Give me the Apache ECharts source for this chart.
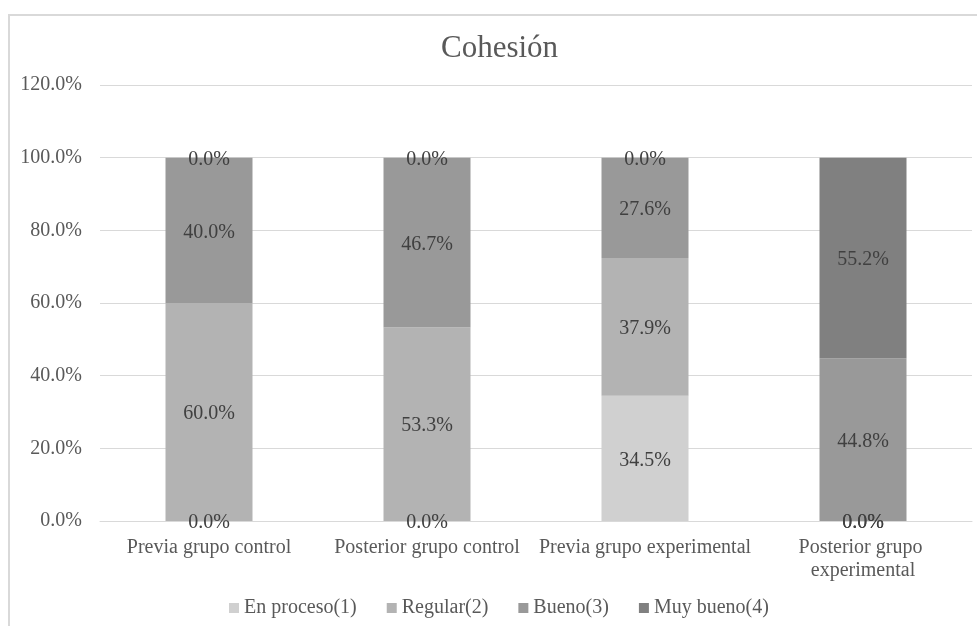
<!DOCTYPE html>
<html>
<head>
<meta charset="utf-8">
<script src="https://cdn.jsdelivr.net/npm/echarts@6/dist/echarts.min.js"></script>
<style>html,body{margin:0;padding:0;background:#fff}#c{width:977px;height:626px}</style>
</head>
<body>
<div id="c"></div>
<script>
var categories = ['Previa grupo control', 'Posterior grupo control', 'Previa grupo experimental', 'Posterior grupo experimental'];
var seriesNames = ['En proceso(1)', 'Regular(2)', 'Bueno(3)', 'Muy bueno(4)'];
var enProceso = [0.0, 0.0, 34.5, 0.0];
var regular = [60.0, 53.3, 37.9, 0.0];
var bueno = [40.0, 46.7, 27.6, 44.8];
var muyBueno = [0.0, 0.0, 0.0, 55.2];
var yTicks = [0, 20, 40, 60, 80, 100, 120];

var FONT = 'Liberation Serif';
var colors = ['#d0d0d0', '#b3b3b3', '#999999', '#808080'];
var allValues = [enProceso, regular, bueno, muyBueno];

var chart = echarts.init(document.getElementById('c'), null, {renderer: 'canvas'});
var series = seriesNames.map(function (name, i) {
  return {
    name: name,
    type: 'bar',
    stack: 'total',
    data: allValues[i],
    barWidth: 87,
    itemStyle: {color: colors[i]},
    label: {
      show: true,
      position: 'inside',
      offset: [0, 2],
      formatter: function (p) { return p.value.toFixed(1) + '%'; },
      fontFamily: FONT,
      fontSize: 20,
      color: '#404040'
    },
    emphasis: {disabled: true}
  };
});

chart.setOption({
  animation: false,
  backgroundColor: '#ffffff',
  textStyle: {fontFamily: FONT},
  graphic: [{
    type: 'rect',
    shape: {x: 9, y: 15, width: 1000, height: 700},
    style: {fill: 'none', stroke: '#d9d9d9', lineWidth: 2},
    silent: true,
    z: -1
  }],
  title: {
    text: 'Cohesión',
    left: 441,
    top: 33,
    padding: 0,
    textStyle: {fontFamily: FONT, fontSize: 31, fontWeight: 'normal', color: '#595959'}
  },
  legend: {
    data: seriesNames,
    left: 229,
    top: 598,
    padding: 0,
    itemWidth: 10,
    itemHeight: 10,
    itemGap: 30,
    icon: 'rect',
    textStyle: {fontFamily: FONT, fontSize: 20, color: '#595959'}
  },
  grid: {left: 100, right: 5, top: 85, bottom: 105, containLabel: false},
  xAxis: {
    type: 'category',
    data: categories,
    axisLine: {show: true, lineStyle: {color: '#d9d9d9', width: 1}},
    axisTick: {show: false},
    axisLabel: {
      interval: 0,
      margin: 15,
      width: 216,
      overflow: 'break',
      lineHeight: 23,
      fontFamily: FONT,
      fontSize: 20,
      color: '#595959'
    }
  },
  yAxis: {
    type: 'value',
    min: 0,
    max: 120,
    interval: 20,
    axisLine: {show: false},
    axisTick: {show: false},
    splitLine: {show: true, lineStyle: {color: '#d9d9d9', width: 1}},
    axisLabel: {
      margin: 18,
      fontFamily: FONT,
      fontSize: 20,
      color: '#595959',
      formatter: function (v) { return v.toFixed(1) + '%'; }
    }
  },
  series: series
});
</script>
</body>
</html>
